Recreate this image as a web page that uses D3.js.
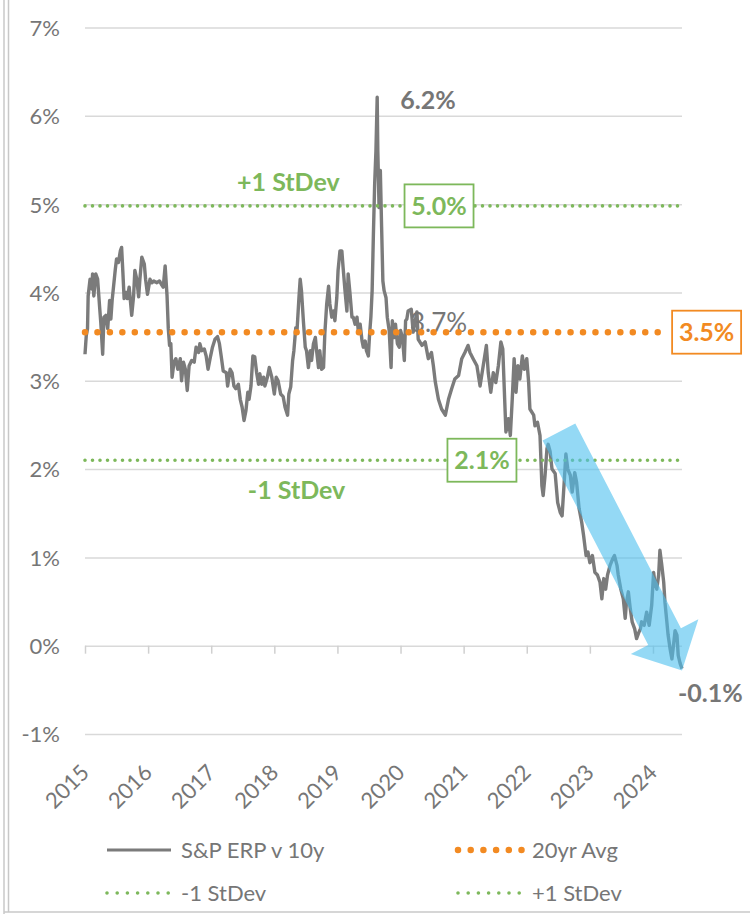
<!DOCTYPE html>
<html>
<head>
<meta charset="utf-8">
<script src="https://d3js.org/d3.v7.min.js"></script>
<style>
  body { margin: 0; background: #fff; }
  text { font-family: Lato, "Open Sans", sans-serif; }
</style>
</head>
<body>
<div id="grafico"></div>
<script>
// S&P equity risk premium vs 10y yield, decimal years
const dates = [
  2015.00, 2015.02, 2015.04, 2015.05, 2015.08, 2015.11, 2015.12, 2015.14, 2015.17, 2015.20,
  2015.23, 2015.25, 2015.28, 2015.30, 2015.33, 2015.36, 2015.39, 2015.41, 2015.43, 2015.48,
  2015.50, 2015.53, 2015.56, 2015.58, 2015.60, 2015.62, 2015.65, 2015.67, 2015.70, 2015.74,
  2015.77, 2015.79, 2015.82, 2015.85, 2015.87, 2015.90, 2015.94, 2015.96, 2015.99, 2016.03,
  2016.06, 2016.09, 2016.14, 2016.18, 2016.22, 2016.24, 2016.27, 2016.30, 2016.32, 2016.34,
  2016.36, 2016.38, 2016.41, 2016.44, 2016.47, 2016.51, 2016.53, 2016.56, 2016.59, 2016.62,
  2016.65, 2016.69, 2016.73, 2016.76, 2016.80, 2016.82, 2016.85, 2016.89, 2016.92, 2016.95,
  2016.99, 2017.02, 2017.06, 2017.10, 2017.13, 2017.16, 2017.19, 2017.24, 2017.26, 2017.30,
  2017.33, 2017.36, 2017.39, 2017.43, 2017.46, 2017.49, 2017.52, 2017.55, 2017.58, 2017.60,
  2017.63, 2017.66, 2017.69, 2017.72, 2017.75, 2017.77, 2017.80, 2017.83, 2017.85, 2017.89,
  2017.92, 2017.96, 2018.00, 2018.03, 2018.06, 2018.10, 2018.14, 2018.17, 2018.21, 2018.23,
  2018.26, 2018.29, 2018.31, 2018.34, 2018.36, 2018.39, 2018.41, 2018.43, 2018.46, 2018.49,
  2018.51, 2018.54, 2018.57, 2018.59, 2018.62, 2018.65, 2018.67, 2018.70, 2018.72, 2018.75,
  2018.78, 2018.80, 2018.83, 2018.86, 2018.88, 2018.91, 2018.94, 2018.96, 2018.99, 2019.01,
  2019.04, 2019.07, 2019.09, 2019.12, 2019.15, 2019.17, 2019.20, 2019.23, 2019.25, 2019.28,
  2019.31, 2019.33, 2019.36, 2019.39, 2019.41, 2019.44, 2019.46, 2019.49, 2019.51, 2019.53,
  2019.55, 2019.57, 2019.59, 2019.61, 2019.63, 2019.64, 2019.66, 2019.68, 2019.70, 2019.72,
  2019.74, 2019.77, 2019.79, 2019.82, 2019.85, 2019.87, 2019.90, 2019.92, 2019.95, 2019.98,
  2020.00, 2020.03, 2020.06, 2020.08, 2020.10, 2020.12, 2020.17, 2020.20, 2020.26, 2020.28,
  2020.34, 2020.39, 2020.44, 2020.49, 2020.52, 2020.55, 2020.60, 2020.65, 2020.71, 2020.76,
  2020.81, 2020.86, 2020.92, 2020.97, 2021.02, 2021.07, 2021.10, 2021.15, 2021.21, 2021.26,
  2021.31, 2021.36, 2021.39, 2021.43, 2021.47, 2021.51, 2021.55, 2021.59, 2021.62, 2021.65,
  2021.67, 2021.71, 2021.74, 2021.77, 2021.80, 2021.83, 2021.86, 2021.89, 2021.93, 2021.96,
  2022.00, 2022.03, 2022.05, 2022.11, 2022.13, 2022.17, 2022.21, 2022.24, 2022.26, 2022.29,
  2022.32, 2022.34, 2022.37, 2022.40, 2022.45, 2022.49, 2022.53, 2022.56, 2022.60, 2022.62,
  2022.65, 2022.69, 2022.72, 2022.76, 2022.79, 2022.83, 2022.87, 2022.90, 2022.94, 2022.97,
  2023.00, 2023.04, 2023.08, 2023.12, 2023.16, 2023.19, 2023.22, 2023.25, 2023.28, 2023.32,
  2023.36, 2023.39, 2023.43, 2023.45, 2023.49, 2023.53, 2023.56, 2023.58, 2023.61, 2023.64,
  2023.67, 2023.71, 2023.74, 2023.77, 2023.80, 2023.82, 2023.86, 2023.90, 2023.94, 2023.98,
  2024.01, 2024.03, 2024.06, 2024.09, 2024.11, 2024.14, 2024.17, 2024.19, 2024.22, 2024.24,
  2024.27, 2024.30, 2024.32, 2024.35, 2024.38, 2024.40, 2024.43, 2024.46
];
const erp = [
  3.30, 3.51, 3.59, 3.96, 4.15, 4.04, 4.21, 3.96, 4.21, 4.15,
  3.85, 3.66, 3.30, 3.72, 3.74, 3.59, 3.91, 3.70, 3.91, 4.26,
  4.38, 4.34, 4.47, 4.51, 4.23, 3.93, 4.00, 3.93, 4.06, 3.74,
  3.96, 4.25, 4.15, 3.95, 4.15, 4.40, 4.32, 4.15, 3.98, 4.15,
  4.11, 4.13, 4.11, 4.13, 4.08, 4.06, 4.30, 3.96, 3.59, 3.40,
  3.42, 3.04, 3.21, 3.25, 3.13, 3.25, 3.00, 3.21, 3.13, 2.89,
  3.17, 3.23, 3.21, 3.38, 3.32, 3.42, 3.34, 3.36, 3.28, 3.13,
  3.28, 3.38, 3.47, 3.50, 3.42, 3.27, 3.11, 3.09, 2.94, 3.13,
  3.09, 2.94, 2.91, 2.96, 2.79, 2.70, 2.55, 2.66, 2.87, 2.79,
  2.94, 3.28, 3.27, 3.09, 2.96, 3.08, 2.96, 3.04, 2.94, 3.04,
  3.15, 3.04, 2.85, 3.04, 3.00, 2.85, 2.82, 2.70, 2.61, 2.85,
  2.93, 3.23, 3.34, 3.60, 3.57, 3.94, 4.15, 4.02, 3.68, 3.38,
  3.34, 3.15, 3.34, 3.23, 3.42, 3.49, 3.34, 3.15, 3.34, 3.13,
  3.15, 3.53, 3.87, 4.07, 3.87, 3.72, 3.79, 3.68, 3.94, 4.25,
  4.47, 4.47, 4.28, 4.02, 3.79, 4.21, 3.98, 3.72, 3.72, 3.64,
  3.72, 3.57, 3.64, 3.45, 3.38, 3.45, 3.34, 3.28, 3.53, 3.72,
  4.02, 4.66, 5.23, 5.60, 6.21, 5.60, 4.96, 5.38, 4.74, 4.13,
  4.02, 3.94, 3.72, 3.57, 3.15, 3.68, 3.49, 3.64, 3.42, 3.38,
  3.57, 3.49, 3.23, 3.68, 3.70, 3.79, 3.81, 3.55, 3.78, 3.47,
  3.40, 3.44, 3.25, 3.32, 3.17, 2.99, 2.79, 2.68, 2.61, 2.79,
  2.91, 3.02, 3.06, 3.25, 3.32, 3.40, 3.32, 3.25, 3.17, 2.94,
  3.17, 3.40, 3.09, 2.87, 3.09, 2.98, 3.17, 3.44, 3.36, 2.79,
  2.42, 2.57, 2.38, 2.79, 3.25, 2.87, 3.17, 3.02, 3.28, 3.13,
  3.25, 2.98, 2.68, 2.61, 2.49, 2.53, 2.38, 1.81, 1.70, 1.93,
  2.23, 2.28, 2.20, 2.00, 1.95, 1.62, 1.51, 1.47, 1.93, 2.17,
  2.00, 1.93, 1.74, 1.96, 1.85, 1.55, 1.40, 1.25, 1.02, 1.06,
  0.94, 1.02, 0.83, 0.80, 0.72, 0.53, 0.76, 0.64, 0.80, 0.91,
  0.98, 1.02, 0.91, 0.80, 0.64, 0.53, 0.31, 0.49, 0.61, 0.42,
  0.27, 0.19, 0.08, 0.14, 0.19, 0.27, 0.23, 0.38, 0.23, 0.46,
  0.83, 0.72, 0.64, 0.80, 1.08, 0.91, 0.72, 0.49, 0.27, 0.12,
  -0.03, -0.15, -0.03, 0.17, 0.12, -0.11, -0.20, -0.26
];

const yTicks = [-1, 0, 1, 2, 3, 4, 5, 6, 7];
const xTicks = [2015, 2016, 2017, 2018, 2019, 2020, 2021, 2022, 2023, 2024];

// reference lines
const refNames = ["20yr Avg", "-1 StDev", "+1 StDev"];
const refValues = [3.55, 2.10, 4.98];
const refLabels = ["3.5%", "2.1%", "5.0%"];
const refBoxAt = [2024.85, 2021.29, 2020.61];

const seriesName = "S&P ERP v 10y";

// trend arrow (start, tip)
const arrowDates = [2022.51, 2024.46];
const arrowValues = [2.42, -0.28];

const gris = "#767676";
const verde = "#7db85b";
const naranja = "#f28a22";

const ancho = 750, alto = 914;

const svg = d3.select("#grafico").append("svg")
  .attr("width", ancho).attr("height", alto);

const x = d3.scaleLinear().domain([2015, 2024.46]).range([85, 682]);
const y = d3.scaleLinear().domain([-1, 7]).range([734, 27.5]);

// frame
svg.append("line").attr("x1", 4).attr("x2", 4).attr("y1", 0).attr("y2", alto)
  .attr("stroke", "#c8c8c8").attr("stroke-width", 1.5);
svg.append("line").attr("x1", 8.5).attr("x2", 8.5).attr("y1", 0).attr("y2", 912)
  .attr("stroke", "#c8c8c8").attr("stroke-width", 1.5);
svg.append("line").attr("x1", 4).attr("x2", ancho).attr("y1", 912).attr("y2", 912)
  .attr("stroke", "#c8c8c8").attr("stroke-width", 1.5);

// y axis + gridlines
const ejeY = svg.append("g")
  .attr("transform", "translate(" + x(2015) + ",0)")
  .call(d3.axisLeft(y).tickValues(yTicks).tickSize(-(x(2024.46) - x(2015)))
    .tickPadding(25).tickFormat(d => d + "%"));
ejeY.select(".domain").remove();
ejeY.selectAll("line").attr("stroke", "#d9d9d9").attr("stroke-width", 1.5);
ejeY.selectAll("text").attr("fill", gris).style("font-size", "22px")
  .attr("dy", "0.36em").style("font-family", "Lato, 'Open Sans', sans-serif");

// x axis ticks on 0% line
const ejeX = svg.append("g")
  .attr("transform", "translate(0," + y(0) + ")")
  .call(d3.axisBottom(x).tickValues(xTicks).tickSize(8).tickFormat(d3.format("d")));
ejeX.select(".domain").remove();
ejeX.selectAll("line").attr("stroke", "#d0d0d0").attr("stroke-width", 1.5);
ejeX.selectAll("text")
  .attr("x", 0).attr("y", 0).attr("dy", 0)
  .attr("transform", "translate(5," + (774 - y(0)) + ") rotate(-45)")
  .style("text-anchor", "end")
  .attr("fill", gris).style("font-size", "22px")
  .style("font-family", "Lato, 'Open Sans', sans-serif");

// main line
const linea = d3.line().x((d, i) => x(dates[i])).y(d => y(d));
svg.append("path")
  .datum(erp)
  .attr("d", linea)
  .attr("fill", "none")
  .attr("stroke", "#7b7b7b")
  .attr("stroke-width", 3.4)
  .attr("stroke-linejoin", "round");

// 3.7% label
svg.append("text")
  .attr("x", x(2020.15)).attr("y", y(3.55))
  .attr("fill", gris).style("font-size", "26px")
  .text("3.7%");

// reference dotted lines
const refColor = [naranja, verde, verde];
refValues.forEach((v, i) => {
  const fin = i === 0 ? x(refBoxAt[0]) - 38 : x(2024.46);
  svg.append("line")
    .attr("x1", x(2015)).attr("x2", fin)
    .attr("y1", y(v)).attr("y2", y(v))
    .attr("stroke", refColor[i])
    .attr("stroke-width", i === 0 ? 6.5 : 3.6)
    .attr("stroke-linecap", "round")
    .attr("stroke-dasharray", i === 0 ? "0 12.45" : "0 7.5");
});

// trend arrow
(function () {
  const x0 = x(arrowDates[0]), y0 = y(arrowValues[0]);
  const x1 = x(arrowDates[1]), y1 = y(arrowValues[1]);
  const len = Math.hypot(x1 - x0, y1 - y0);
  const ux = (x1 - x0) / len, uy = (y1 - y0) / len;
  const px = -uy, py = ux;
  const shaft = 18.4, head = 38, headLen = 38;
  const bx = x1 - ux * headLen, by = y1 - uy * headLen;
  const pts = [
    [x0 + px * shaft, y0 + py * shaft],
    [bx + px * shaft, by + py * shaft],
    [bx + px * head, by + py * head],
    [x1, y1],
    [bx - px * head, by - py * head],
    [bx - px * shaft, by - py * shaft],
    [x0 - px * shaft, y0 - py * shaft]
  ];
  svg.append("path")
    .attr("d", "M" + pts.map(p => p.join(",")).join("L") + "Z")
    .attr("fill", "#4dbfee")
    .attr("fill-opacity", 0.6);
})();

// value boxes
refValues.forEach((v, i) => {
  const cx = x(refBoxAt[i]), cy = y(v);
  svg.append("rect")
    .attr("x", cx - 34.5).attr("y", cy - 21.5)
    .attr("width", 69).attr("height", 43)
    .attr("fill", "#fff")
    .attr("stroke", refColor[i]).attr("stroke-width", 1.8);
  svg.append("text")
    .attr("x", cx).attr("y", cy).attr("dy", "0.36em")
    .attr("text-anchor", "middle")
    .attr("fill", refColor[i])
    .style("font-size", "25px").style("font-weight", "bold")
    .text(refLabels[i]);
});

// StDev labels
svg.append("text").attr("x", x(2017.41)).attr("y", y(refValues[2]) - 15)
  .attr("fill", verde).style("font-size", "25px").style("font-weight", "bold")
  .text(refNames[2]);
svg.append("text").attr("x", x(2017.58)).attr("y", y(refValues[1]) + 39)
  .attr("fill", verde).style("font-size", "25px").style("font-weight", "bold")
  .text(refNames[1]);

// peak and last value labels
svg.append("text").attr("x", x(2019.63) + 23).attr("y", y(6.21) + 12)
  .attr("fill", gris).style("font-size", "25px").style("font-weight", "bold")
  .text("6.2%");
svg.append("text").attr("x", x(2024.46) - 4).attr("y", y(-0.26) + 33)
  .attr("fill", gris).style("font-size", "25px").style("font-weight", "bold")
  .text("-0.1%");

// legend
const legendNames = [seriesName, refNames[0], refNames[1], refNames[2]];
const legendColors = ["#7b7b7b", naranja, verde, verde];
const legendCol = [107, 458, 107, 458];
const legendRow = [850, 850, 893, 893];
legendNames.forEach((n, i) => {
  const g = svg.append("g");
  const l = g.append("line")
    .attr("x1", legendCol[i]).attr("x2", legendCol[i] + 64)
    .attr("y1", legendRow[i]).attr("y2", legendRow[i])
    .attr("stroke", legendColors[i]);
  if (i === 0) {
    l.attr("stroke-width", 3);
  } else if (i === 1) {
    l.attr("stroke-width", 6.5).attr("stroke-linecap", "round").attr("stroke-dasharray", "0 12.7");
  } else {
    l.attr("stroke-width", 3.6).attr("stroke-linecap", "round").attr("stroke-dasharray", "0 10.2");
  }
  g.append("text")
    .attr("x", legendCol[i] + 74).attr("y", legendRow[i]).attr("dy", "0.36em")
    .attr("fill", gris).style("font-size", "22px")
    .text(n);
});
</script>
</body>
</html>
